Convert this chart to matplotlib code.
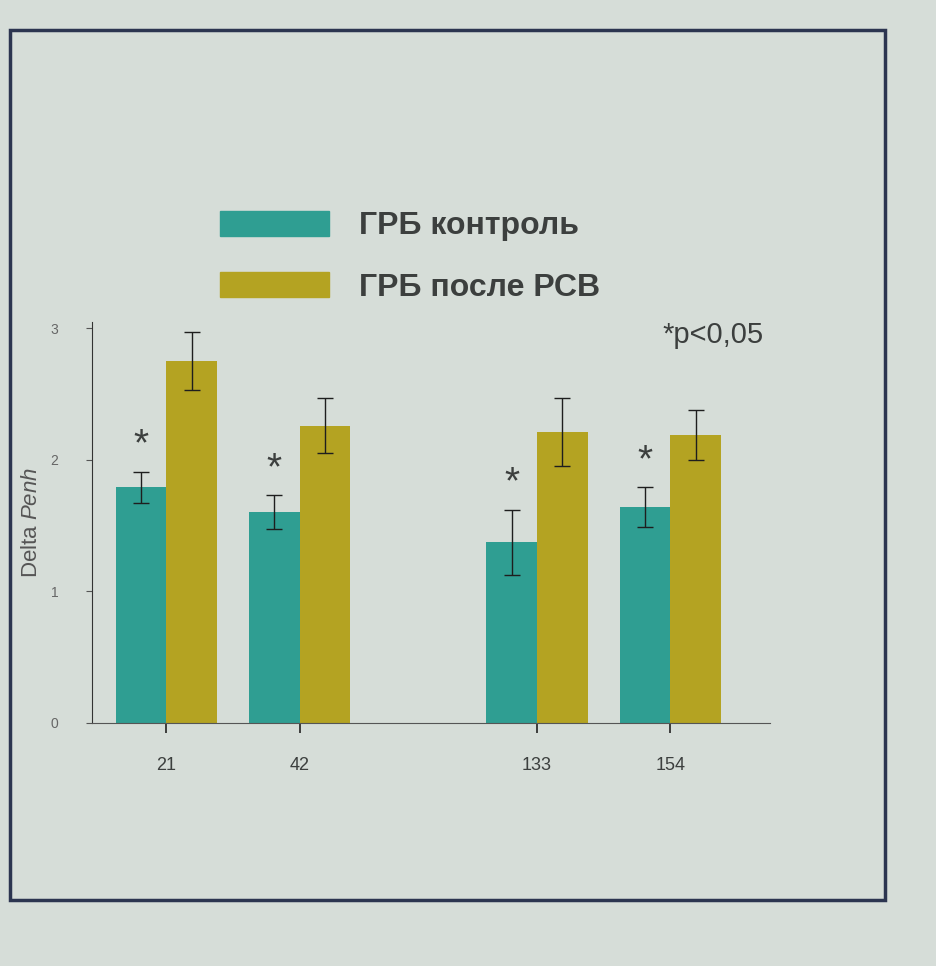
import matplotlib
matplotlib.use('Agg')
import matplotlib.pyplot as plt
from matplotlib.patches import Patch, Rectangle

plt.rcParams['font.family'] = ['Liberation Sans', 'DejaVu Sans']
plt.rcParams['mathtext.fontset'] = 'custom'
plt.rcParams['mathtext.rm'] = 'Liberation Sans'
plt.rcParams['mathtext.it'] = 'Liberation Sans:italic'

# данные
days = ['21', '42', '133', '154']
control = [1.79, 1.60, 1.37, 1.64]
control_err = [0.12, 0.13, 0.25, 0.15]
after_rsv = [2.75, 2.26, 2.21, 2.19]
after_err = [0.22, 0.21, 0.26, 0.19]
significant = [True, True, True, True]

group_pos = [0, 1, 2.78, 3.78]   # между 42 и 133 пропуск
w = 0.38
teal = '#2f9e92'
olive = '#b4a322'
bg = '#d6ddd8'
txt = '#3c3f3e'

fig = plt.figure(figsize=(9.36, 9.66), dpi=100, facecolor=bg)
ax = fig.add_axes([0.098, 0.252, 0.725, 0.415])
ax.set_facecolor(bg)

x_c = [p - w / 2 for p in group_pos]
x_a = [p + w / 2 for p in group_pos]
ekw = dict(ecolor='#1e1e1e', elinewidth=1.0, capsize=6, capthick=1.0)
ax.bar(x_c, control, w, color=teal, yerr=control_err, error_kw=ekw,
       label='ГРБ контроль')
ax.bar(x_a, after_rsv, w, color=olive, yerr=after_err, error_kw=ekw,
       label='ГРБ после РСВ')

for xi, v, e, s in zip(x_c, control, control_err, significant):
    if s:
        ax.text(xi, v + e + 0.06, '*', ha='center', va='bottom',
                fontsize=28, color=txt)

ax.set_xlim(-0.56, 4.53)
ax.set_ylim(0, 3.05)
ax.set_xticks(group_pos)
ax.set_xticklabels(days)
ax.set_yticks([0, 1, 2, 3])
ax.tick_params(axis='x', direction='out', length=7, width=1.2, pad=18,
               labelsize=13, labelcolor=txt, color='#222')
ax.tick_params(axis='y', direction='out', length=4, width=0.8, pad=20,
               labelsize=10, labelcolor='#666', color='#555')
for sp in ['top', 'right']:
    ax.spines[sp].set_visible(False)
ax.spines['left'].set_color('#333')
ax.spines['bottom'].set_color('#555')
ax.spines['bottom'].set_linewidth(0.8)
ax.set_ylabel('Delta $Penh$', fontsize=16, color='#555', labelpad=6)

ax.text(3.72, 2.95, '*p<0,05', fontsize=21, color=txt, ha='left', va='center')

handles = [Patch(color=teal, label='ГРБ контроль'),
           Patch(color=olive, label='ГРБ после РСВ')]
fig.legend(handles=handles, loc='upper left', bbox_to_anchor=(0.235, 0.782),
           frameon=False, handlelength=3.4, handleheight=0.85,
           handletextpad=0.95, labelspacing=0.95, borderpad=0, borderaxespad=0,
           labelcolor=txt, prop=dict(size=23, weight='bold'))

# рамка слайда
fig.patches.append(Rectangle((0.011, 0.068), 0.935, 0.901, transform=fig.transFigure,
                             fill=False, edgecolor='#2c3550', linewidth=2.5))

fig.savefig('out.png', dpi=100, facecolor=bg)
